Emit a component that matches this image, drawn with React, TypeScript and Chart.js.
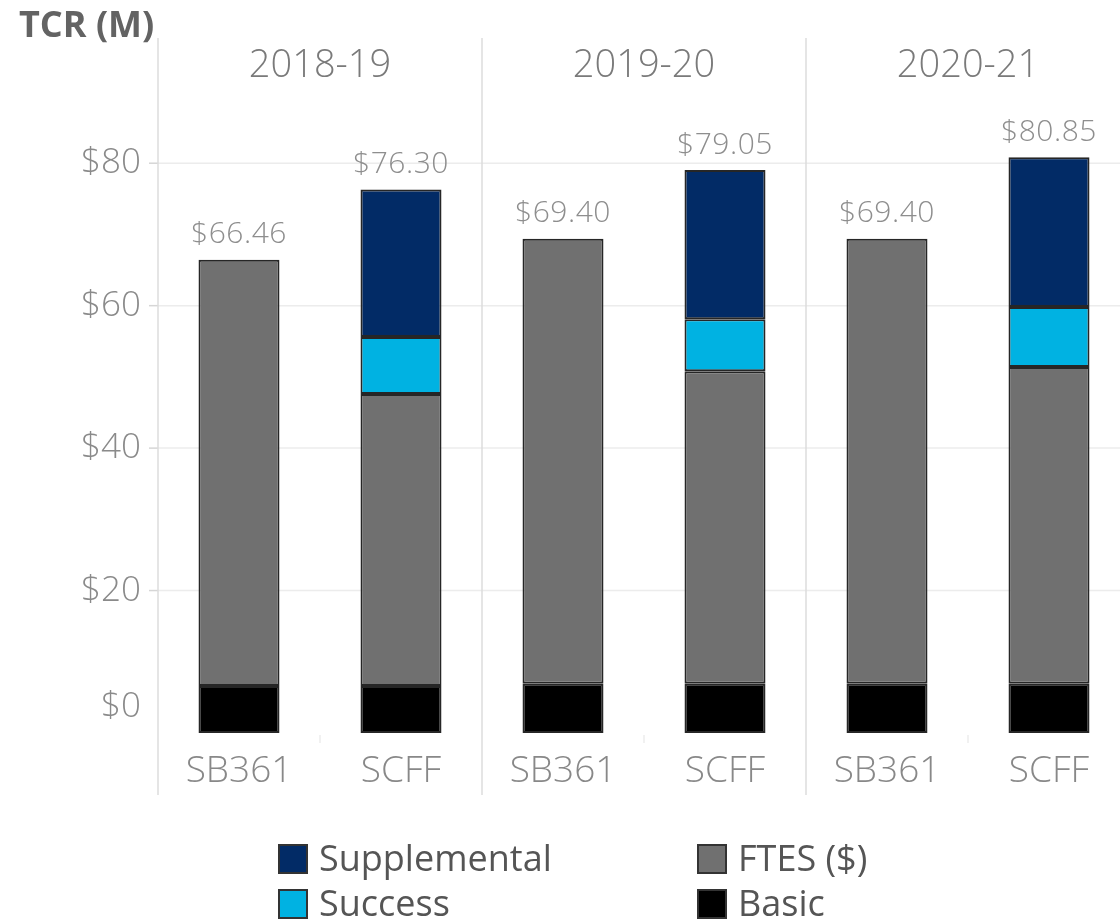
import React, { useEffect, useRef } from "react";
import { Chart, registerables } from "chart.js";

Chart.register(...registerables);

const categories = ["SB361", "SCFF", "SB361", "SCFF", "SB361", "SCFF"];
const years = ["2018-19", "2019-20", "2020-21"];
const basic = [6.6, 6.6, 6.9, 6.9, 6.9, 6.9];
const ftes = [59.86, 41.0, 62.5, 43.9, 62.5, 44.5];
const success = [null, 8.0, null, 7.3, null, 8.4];
const supplemental = [null, 20.7, null, 20.95, null, 21.05];
const yTicks = [0, 20, 40, 60, 80];

const FONT = '"Open Sans", "Noto Sans", sans-serif';

const overlay = {
  id: "overlay",
  beforeDatasetsDraw(chart: any) {
    const ctx = chart.ctx;
    const { left, right, bottom } = chart.chartArea;
    const x = chart.scales.x;
    const y = chart.scales.y;
    ctx.save();
    ctx.lineWidth = 1.5;
    yTicks.forEach((v) => {
      if (v === 0) return;
      const py = y.getPixelForValue(v);
      ctx.strokeStyle = "#ececec";
      ctx.beginPath();
      ctx.moveTo(left, py);
      ctx.lineTo(right, py);
      ctx.stroke();
      ctx.strokeStyle = "#d6d6d6";
      ctx.beginPath();
      ctx.moveTo(left - 9, py);
      ctx.lineTo(left, py);
      ctx.stroke();
    });
    const half = (x.getPixelForValue(1) - x.getPixelForValue(0)) / 2;
    for (let g = 0; g < years.length; g++) {
      const px = x.getPixelForValue(g * 2) - half;
      ctx.strokeStyle = "#dcdcdc";
      ctx.beginPath();
      ctx.moveTo(px, 38);
      ctx.lineTo(px, 795);
      ctx.stroke();
      const mid = x.getPixelForValue(g * 2) + half;
      ctx.strokeStyle = "#ececec";
      ctx.beginPath();
      ctx.moveTo(mid, bottom + 2);
      ctx.lineTo(mid, bottom + 10);
      ctx.stroke();
    }
    ctx.restore();
  },
  afterDatasetsDraw(chart: any) {
    const ctx = chart.ctx;
    const { left, bottom } = chart.chartArea;
    const x = chart.scales.x;
    const y = chart.scales.y;
    ctx.save();
    ctx.fillStyle = "#8a8a8a";
    ctx.font = `300 35px ${FONT}`;
    ctx.textAlign = "right";
    ctx.textBaseline = "middle";
    yTicks.forEach((v) => {
      let py = y.getPixelForValue(v);
      if (py > bottom - 26) py = bottom - 26;
      ctx.fillText("$" + v, left - 17, py);
    });
    ctx.font = `300 30px ${FONT}`;
    ctx.textAlign = "center";
    ctx.fillStyle = "#8e8e8e";
    try { (ctx as any).letterSpacing = "0.5px"; } catch (e) {}
    categories.forEach((_, i) => {
      const total =
        (basic[i] || 0) + (ftes[i] || 0) + (success[i] || 0) + (supplemental[i] || 0);
      const px = x.getPixelForValue(i);
      const py = y.getPixelForValue(total) - 25;
      ctx.fillText("$" + total.toFixed(2), px, py);
    });
    try { (ctx as any).letterSpacing = "0px"; } catch (e) {}
    ctx.font = `300 38px ${FONT}`;
    ctx.fillStyle = "#7a7a7a";
    years.forEach((yr, g) => {
      const px = (x.getPixelForValue(g * 2) + x.getPixelForValue(g * 2 + 1)) / 2;
      ctx.fillText(yr, px, 66);
    });
    ctx.font = `300 37px ${FONT}`;
    ctx.fillStyle = "#888888";
    categories.forEach((c, i) => {
      ctx.fillText(c, x.getPixelForValue(i), 771);
    });
    ctx.font = `bold 36px ${FONT}`;
    ctx.fillStyle = "#636363";
    ctx.textAlign = "left";
    ctx.fillText("TCR (M)", 19, 27);
    const items = [
      { label: "Supplemental", color: "#022b66", bx: 278, by: 844 },
      { label: "Success", color: "#00b2e2", bx: 278, by: 889 },
      { label: "FTES ($)", color: "#707070", bx: 697, by: 844 },
      { label: "Basic", color: "#000000", bx: 697, by: 889 },
    ];
    ctx.font = `36px ${FONT}`;
    items.forEach((it) => {
      ctx.fillStyle = it.color;
      ctx.fillRect(it.bx, it.by, 30, 30);
      ctx.strokeStyle = "#333333";
      ctx.lineWidth = 2;
      ctx.strokeRect(it.bx + 1, it.by + 1, 28, 28);
      ctx.fillStyle = "#555555";
      ctx.textBaseline = "middle";
      ctx.fillText(it.label, it.bx + 41, it.by + 17);
    });
    ctx.restore();
  },
};

export default function App() {
  const ref = useRef<HTMLCanvasElement | null>(null);
  useEffect(() => {
    if (!ref.current) return;
    const common = {
      borderColor: "#262626",
      borderWidth: 2,
      borderSkipped: false,
      barPercentage: 0.5,
      categoryPercentage: 1.0,
    };
    const chart = new Chart(ref.current, {
      type: "bar",
      data: {
        labels: categories,
        datasets: [
          { label: "Basic", data: basic, backgroundColor: "#000000", ...common },
          { label: "FTES ($)", data: ftes, backgroundColor: "#707070", ...common },
          { label: "Success", data: success, backgroundColor: "#00b2e2", ...common },
          { label: "Supplemental", data: supplemental, backgroundColor: "#022b66", ...common },
        ] as any,
      },
      options: {
        animation: false,
        responsive: false,
        devicePixelRatio: 1,
        layout: { padding: { left: 158, right: 0, top: 92, bottom: 191 } },
        plugins: { legend: { display: false }, tooltip: { enabled: false } },
        scales: {
          x: { stacked: true, display: false },
          y: { stacked: true, display: false, min: 0, max: 90 },
        },
      },
      plugins: [overlay],
    });
    return () => chart.destroy();
  }, []);
  return (
    <div
      style={{
        position: "fixed",
        left: 0,
        top: 0,
        width: 1120,
        height: 924,
        overflow: "hidden",
        background: "#ffffff",
      }}
    >
      <canvas ref={ref} width={1130} height={924} style={{ width: 1130, height: 924 }} />
    </div>
  );
}
